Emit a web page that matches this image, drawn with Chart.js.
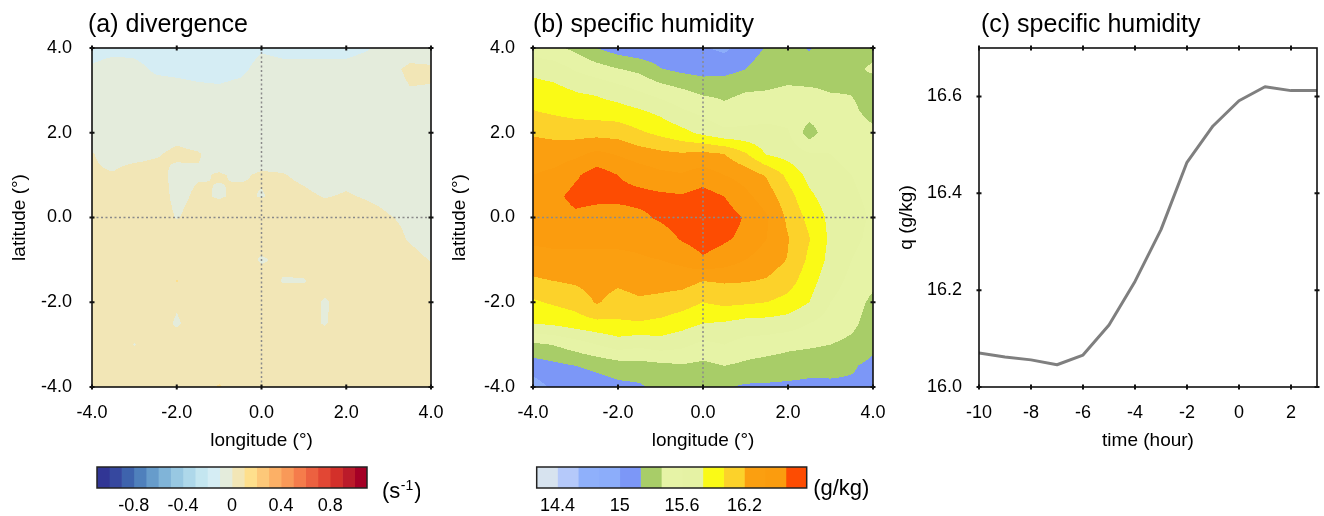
<!DOCTYPE html>
<html>
<head>
<meta charset="utf-8">
<script src="https://cdn.jsdelivr.net/npm/chart.js@4.4.0/dist/chart.umd.min.js"></script>
<style>
html,body{margin:0;padding:0;background:#fff;}
#wrap{position:relative;width:1324px;height:516px;overflow:hidden;background:#fff;}
#wrap canvas{position:absolute;}
</style>
</head>
<body>
<div id="wrap">
  <canvas id="mapDiv" width="445" height="460" style="left:0px;top:0px"></canvas>
  <canvas id="mapQ" width="445" height="460" style="left:445px;top:0px"></canvas>
  <canvas id="lineQ" width="434" height="460" style="left:890px;top:0px"></canvas>
  <canvas id="barDiv" width="340" height="61" style="left:80px;top:455px"></canvas>
  <canvas id="barQ" width="360" height="61" style="left:520px;top:455px"></canvas>
</div>
<script>
// ---- grid coordinates (degrees) ----
const lonPts = [-4, -3.5, -3, -2.5, -2, -1.5, -1, -0.5, 0, 0.5, 1, 1.5, 2, 2.5, 3, 3.5, 4];
const latPts = [4, 3.5, 3, 2.5, 2, 1.5, 1, 0.5, 0, -0.5, -1, -1.5, -2, -2.5, -3, -3.5, -4];

// ---- composite divergence, rows from 4N to 4S ----
const divergence = [
  [-0.13,-0.12,-0.12,-0.13,-0.14,-0.15,-0.15,-0.14,-0.11,-0.12,-0.12,-0.12,-0.12,-0.105,-0.08,-0.05,-0.04],
  [-0.09,-0.07,-0.08,-0.11,-0.12,-0.13,-0.135,-0.12,-0.07,-0.08,-0.08,-0.08,-0.08,-0.07,-0.03,0.02,0.01],
  [-0.06,-0.06,-0.06,-0.07,-0.07,-0.08,-0.085,-0.07,-0.06,-0.06,-0.06,-0.06,-0.05,-0.05,-0.04,-0.005,-0.005],
  [-0.05,-0.05,-0.05,-0.04,-0.04,-0.05,-0.05,-0.05,-0.05,-0.05,-0.05,-0.05,-0.05,-0.05,-0.05,-0.03,-0.03],
  [-0.03,-0.03,-0.03,-0.025,-0.015,-0.03,-0.04,-0.05,-0.05,-0.05,-0.05,-0.05,-0.05,-0.05,-0.05,-0.04,-0.04],
  [0.002,-0.015,-0.015,-0.005,0.01,0.004,-0.02,-0.03,-0.02,-0.025,-0.035,-0.04,-0.035,-0.04,-0.045,-0.05,-0.05],
  [0.005,0.003,0.02,0.02,-0.015,-0.005,0.003,-0.005,0.005,0.003,-0.01,-0.025,-0.015,-0.03,-0.035,-0.04,-0.045],
  [0.008,0.01,0.03,0.03,-0.015,0.01,-0.005,0.01,-0.003,0.015,0.01,-0.003,0.005,-0.005,-0.015,-0.03,-0.04],
  [0.015,0.03,0.04,0.03,-0.003,0.02,0.03,0.04,0.03,0.04,0.04,0.03,0.03,0.02,0.003,-0.01,-0.03],
  [0.04,0.04,0.04,0.04,0.04,0.04,0.04,0.04,0.04,0.04,0.04,0.04,0.04,0.04,0.02,-0.005,-0.03],
  [0.04,0.04,0.04,0.04,0.04,0.04,0.04,0.04,-0.01,0.02,0.03,0.04,0.04,0.04,0.04,0.02,-0.003],
  [0.04,0.04,0.04,0.04,0.105,0.04,0.04,0.04,0.04,-0.005,-0.005,0.04,0.04,0.04,0.04,0.04,0.02],
  [0.04,0.04,0.04,0.04,0.01,0.04,0.04,0.05,0.04,0.04,0.04,-0.01,0.04,0.04,0.04,0.04,0.04],
  [0.04,0.04,0.04,0.04,-0.01,0.04,0.04,0.04,0.04,0.04,0.02,-0.005,0.04,0.04,0.04,0.04,0.04],
  [0.04,0.04,-0.003,0.04,0.04,0.04,0.04,0.04,0.04,0.04,0.04,0.04,0.04,0.04,0.04,0.04,0.04],
  [0.04,0.04,0.04,0.04,0.04,0.04,0.04,0.04,0.04,0.04,0.04,0.04,0.04,0.04,0.04,0.04,0.04],
  [0.04,0.04,0.04,0.04,0.04,0.04,0.11,0.04,0.04,0.04,0.04,0.04,0.04,0.04,0.04,0.04,0.04]
];

// ---- composite specific humidity (g/kg), rows from 4N to 4S ----
const humidity = [
  [15.5,15.45,15.35,15.2,15.1,15.05,15.05,15.05,15.02,14.96,15.08,15.22,15.28,15.18,15.3,15.35,15.36],
  [15.74,15.7,15.58,15.49,15.41,15.35,15.21,15.15,15.12,15.13,15.2,15.32,15.34,15.3,15.34,15.37,15.42],
  [15.89,15.86,15.79,15.76,15.68,15.59,15.5,15.42,15.35,15.35,15.39,15.4,15.42,15.42,15.39,15.39,15.33],
  [16.01,15.97,15.93,15.91,15.89,15.83,15.75,15.63,15.55,15.45,15.5,15.52,15.52,15.5,15.48,15.43,15.35],
  [16.18,16.15,16.13,16.13,16.12,16.03,15.95,15.86,15.75,15.65,15.65,15.66,15.62,15.3,15.55,15.5,15.43],
  [16.3,16.3,16.35,16.45,16.38,16.3,16.25,16.22,16.25,16.2,16.02,15.78,15.72,15.62,15.6,15.55,15.5],
  [16.4,16.45,16.57,16.7,16.6,16.52,16.45,16.42,16.5,16.4,16.32,16.18,15.95,15.74,15.65,15.6,15.55],
  [16.45,16.55,16.66,16.65,16.66,16.66,16.64,16.62,16.68,16.6,16.45,16.3,16.08,15.84,15.7,15.62,15.57],
  [16.5,16.5,16.56,16.52,16.5,16.56,16.63,16.7,16.75,16.7,16.58,16.42,16.16,15.94,15.75,15.65,15.58],
  [16.45,16.45,16.45,16.45,16.45,16.45,16.5,16.62,16.7,16.63,16.55,16.4,16.21,16.01,15.76,15.65,15.55],
  [16.3,16.35,16.35,16.35,16.35,16.38,16.4,16.45,16.57,16.5,16.4,16.3,16.19,15.96,15.74,15.6,15.5],
  [16.17,16.2,16.23,16.28,16.24,16.28,16.28,16.28,16.2,16.22,16.21,16.18,16.09,15.88,15.68,15.55,15.45],
  [15.97,16.03,16.08,16.22,16.12,16.17,16.14,16.09,16.0,16.05,16.03,16.0,15.93,15.8,15.6,15.5,15.35],
  [15.8,15.84,15.9,15.95,15.97,15.98,15.95,15.88,15.8,15.78,15.73,15.72,15.7,15.6,15.52,15.45,15.3],
  [15.36,15.41,15.5,15.6,15.7,15.65,15.7,15.65,15.55,15.6,15.52,15.5,15.45,15.43,15.4,15.35,15.25],
  [15.1,15.15,15.2,15.25,15.3,15.32,15.35,15.38,15.35,15.4,15.36,15.32,15.3,15.27,15.26,15.22,15.15],
  [14.9,15.05,15.05,15.1,15.15,15.17,15.27,15.3,15.28,15.22,15.17,15.17,15.16,15.15,15.16,15.17,15.18]
];

// ---- contour levels and fill colours ----
const divLevels = [-1.0,-0.9,-0.8,-0.7,-0.6,-0.5,-0.4,-0.3,-0.2,-0.1,0,0.1,0.2,0.3,0.4,0.5,0.6,0.7,0.8,0.9,1.0];
const divColors = ['#313695','#36489f','#3e63ad','#4f80bc','#679ccb','#80b4d8','#98c8e2','#aed8ea','#c4e6f0','#d5edf4',
                   '#e4ecdc','#f2e6b6','#fedf8c','#fdc879','#fcb066','#f99958','#f57c4b','#ec6140','#e24734','#d3302a','#bb1b2a','#a50026'];
const divBarRange = [-1.1, 1.1];
const divBarTicks = [-0.8, -0.4, 0, 0.4, 0.8];

const qLevels = [14.4,14.6,14.8,15.0,15.2,15.4,15.6,15.8,16.0,16.2,16.4,16.6];
const qColors = ['#d7e3ef','#b5c9fa','#8fb0fb','#8cadfa','#7c97f7','#a8cd68','#e6f3a6','#e5f2a4','#fafa16','#fcd22a','#fb9f10','#fb9c0e','#fd4c02'];
const qBarRange = [14.2, 16.8];
const qBarTicks = [14.4, 15, 15.6, 16.2];

// ---- map axes ----
const mapRange = [-4, 4];
const mapTicks = [-4, -2, 0, 2, 4];
const crossLon = 0, crossLat = 0;

// ---- time series of specific humidity ----
const hours = [-10,-9,-8,-7,-6,-5,-4,-3,-2,-1,0,1,2,3];
const qSeries = [16.07,16.062,16.056,16.046,16.066,16.128,16.218,16.325,16.464,16.539,16.591,16.62,16.612,16.612];
const hourRange = [-10, 3];
const hourTicks = [-10,-8,-6,-4,-2,0,2];
const qRange = [16.0, 16.7];
const qTicks = [16.0, 16.2, 16.4, 16.6];

const FONT = "'Liberation Sans', Arial, Helvetica, sans-serif";
Chart.defaults.font.family = FONT;
Chart.defaults.color = '#000';

function hexRgb(h) { return [parseInt(h.slice(1,3),16), parseInt(h.slice(3,5),16), parseInt(h.slice(5,7),16)]; }

// bilinear value of a lon/lat grid
function sampleGrid(grid, lon, lat) {
  const nx = lonPts.length, ny = latPts.length;
  const fx = (lon - lonPts[0]) / (lonPts[1] - lonPts[0]);
  const fy = (lat - latPts[0]) / (latPts[1] - latPts[0]);
  const i = Math.max(0, Math.min(nx - 2, Math.floor(fx)));
  const j = Math.max(0, Math.min(ny - 2, Math.floor(fy)));
  const tx = Math.max(0, Math.min(1, fx - i)), ty = Math.max(0, Math.min(1, fy - j));
  const top = grid[j][i] * (1 - tx) + grid[j][i + 1] * tx;
  const bot = grid[j + 1][i] * (1 - tx) + grid[j + 1][i + 1] * tx;
  return top * (1 - ty) + bot * ty;
}

// filled contours: each pixel of the plot area is mapped back to lon/lat by the chart scales
function contourLayer(grid, levels, colors) {
  const rgb = colors.map(hexRgb);
  return {
    id: 'contourLayer',
    beforeDatasetsDraw(chart) {
      const {ctx, chartArea: a, scales: {x, y}} = chart;
      const x0 = Math.round(a.left), y0 = Math.round(a.top);
      const w = Math.round(a.right) - x0, h = Math.round(a.bottom) - y0;
      const img = ctx.createImageData(w, h);
      for (let r = 0; r < h; r++) {
        const lat = y.getValueForPixel(y0 + r + 0.5);
        for (let c = 0; c < w; c++) {
          const lon = x.getValueForPixel(x0 + c + 0.5);
          const v = sampleGrid(grid, lon, lat);
          let k = 0;
          while (k < levels.length && v >= levels[k]) k++;
          const p = (r * w + c) * 4;
          img.data[p] = rgb[k][0]; img.data[p + 1] = rgb[k][1]; img.data[p + 2] = rgb[k][2]; img.data[p + 3] = 255;
        }
      }
      ctx.putImageData(img, x0, y0);
    }
  };
}

// box, tick marks on all four sides, panel title
function panelFrame(title, dx) {
  return {
    id: 'panelFrame',
    afterDatasetsDraw(chart) {
      const {ctx, chartArea: a, scales: {x, y}} = chart;
      ctx.save();
      ctx.strokeStyle = '#111';
      ctx.lineWidth = 1.6;
      ctx.strokeRect(a.left, a.top, a.right - a.left, a.bottom - a.top);
      ctx.lineWidth = 2;
      ctx.beginPath();
      x.ticks.forEach(t => {
        const px = x.getPixelForValue(t.value);
        ctx.moveTo(px, a.top - 2.5); ctx.lineTo(px, a.top + 2.5);
        ctx.moveTo(px, a.bottom - 2.5); ctx.lineTo(px, a.bottom + 2.5);
      });
      y.ticks.forEach(t => {
        const py = y.getPixelForValue(t.value);
        ctx.moveTo(a.left - 2.5, py); ctx.lineTo(a.left + 2.5, py);
        ctx.moveTo(a.right - 2.5, py); ctx.lineTo(a.right + 2.5, py);
      });
      ctx.stroke();
      ctx.fillStyle = '#000';
      ctx.font = '25px ' + FONT;
      ctx.textAlign = 'left';
      ctx.textBaseline = 'alphabetic';
      ctx.fillText(title, a.left + dx, 32);
      ctx.restore();
    }
  };
}

function fixedTicks(values) { return scale => { scale.ticks = values.map(v => ({value: v})); }; }

const noGrid = {display: false, drawTicks: false};

function axisX(range, ticks, fmt, title) {
  return {
    type: 'linear', min: range[0], max: range[1],
    afterBuildTicks: fixedTicks(ticks),
    afterFit: s => { s.height = 73; s.paddingLeft = 0; s.paddingRight = 0; },
    grid: noGrid, border: {display: false},
    ticks: {padding: 15, font: {size: 18}, callback: fmt, maxRotation: 0, autoSkip: false},
    title: {display: true, text: title, font: {size: 19}, padding: {top: 0, bottom: 8}}
  };
}
function axisY(range, ticks, fmt, title, width, tickPad, titlePad) {
  return {
    type: 'linear', min: range[0], max: range[1],
    afterBuildTicks: fixedTicks(ticks),
    afterFit: s => { s.width = width; s.paddingTop = 0; s.paddingBottom = 0; },
    grid: noGrid, border: {display: false},
    ticks: {padding: tickPad, font: {size: 18}, callback: fmt, autoSkip: false},
    title: {display: true, text: title, font: {size: 19}, padding: {top: titlePad, bottom: 0}}
  };
}

const oneDecimal = v => Number(v).toFixed(1);

function crossLines() {
  const style = {showLine: true, borderColor: '#8a8a8a', borderWidth: 1.5, borderDash: [2, 2.5], pointRadius: 0};
  return [
    Object.assign({data: [{x: mapRange[0], y: crossLat}, {x: mapRange[1], y: crossLat}]}, style),
    Object.assign({data: [{x: crossLon, y: mapRange[0]}, {x: crossLon, y: mapRange[1]}]}, style)
  ];
}

function mapChart(id, grid, levels, colors, title, dx, yWidth, yTickPad, yTitlePad, rightPad) {
  return new Chart(document.getElementById(id), {
    type: 'scatter',
    data: {datasets: crossLines()},
    options: {
      responsive: false, animation: false, devicePixelRatio: 1, events: [],
      layout: {padding: {top: 48, right: rightPad, bottom: 0, left: 0}},
      plugins: {legend: {display: false}, tooltip: {enabled: false}},
      scales: {
        x: axisX(mapRange, mapTicks, oneDecimal, 'longitude (°)'),
        y: axisY(mapRange, mapTicks, oneDecimal, 'latitude (°)', yWidth, yTickPad, yTitlePad)
      }
    },
    plugins: [contourLayer(grid, levels, colors), panelFrame(title, dx)]
  });
}

mapChart('mapDiv', divergence, divLevels, divColors, '(a) divergence', -4, 92, 20, 8.6, 14);
mapChart('mapQ', humidity, qLevels, qColors, '(b) specific humidity', 0, 88, 18, 3.6, 17);

new Chart(document.getElementById('lineQ'), {
  type: 'line',
  data: {datasets: [{
    data: hours.map((h, i) => ({x: h, y: qSeries[i]})),
    borderColor: '#7f7f7f', borderWidth: 3, pointRadius: 0, tension: 0, fill: false,
    borderJoinStyle: 'round', borderCapStyle: 'round'
  }]},
  options: {
    responsive: false, animation: false, devicePixelRatio: 1, events: [],
    layout: {padding: {top: 48, right: 7, bottom: 0, left: 0}},
    plugins: {legend: {display: false}, tooltip: {enabled: false}},
    scales: {
      x: axisX(hourRange, hourTicks, v => String(v), 'time (hour)'),
      y: axisY(qRange, qTicks, oneDecimal, 'q (g/kg)', 89, 17, 5.6)
    }
  },
  plugins: [panelFrame('(c) specific humidity', 2)]
});

// colour bar outline and unit label
function barDecor(unit, sup, dx, baseline) {
  return {
    id: 'barDecor',
    afterDraw(chart) {
      const {ctx, chartArea: a} = chart;
      ctx.save();
      ctx.strokeStyle = '#222';
      ctx.lineWidth = 1.5;
      ctx.strokeRect(a.left, a.top, a.right - a.left, a.bottom - a.top);
      ctx.fillStyle = '#000';
      ctx.textAlign = 'left';
      ctx.textBaseline = 'alphabetic';
      let x = a.right + dx;
      ctx.font = '22px ' + FONT;
      ctx.fillText(unit[0], x, baseline);
      x += ctx.measureText(unit[0]).width;
      if (sup) {
        ctx.font = '14px ' + FONT;
        ctx.fillText(sup, x + 0.5, baseline - 8);
        x += ctx.measureText(sup).width + 1.5;
        ctx.font = '22px ' + FONT;
      }
      if (unit[1]) ctx.fillText(unit[1], x, baseline);
      ctx.restore();
    }
  };
}

function colorBar(id, levels, colors, range, ticks, fmt, padLeft, padRight, decor) {
  const edges = [range[0]].concat(levels, [range[1]]);
  return new Chart(document.getElementById(id), {
    type: 'bar',
    data: {
      labels: [''],
      datasets: colors.map((c, i) => ({
        data: [[edges[i], edges[i + 1]]], backgroundColor: c, borderWidth: 0,
        grouped: false, barPercentage: 1, categoryPercentage: 1
      }))
    },
    options: {
      indexAxis: 'y', responsive: false, animation: false, devicePixelRatio: 1, events: [],
      layout: {padding: {top: 12, left: padLeft, right: padRight, bottom: 0}},
      plugins: {legend: {display: false}, tooltip: {enabled: false}},
      scales: {
        x: {
          type: 'linear', min: range[0], max: range[1],
          afterBuildTicks: fixedTicks(ticks),
          afterFit: s => { s.height = 28; s.paddingLeft = 0; s.paddingRight = 0; },
          grid: noGrid, border: {display: false},
          ticks: {padding: 7, font: {size: 18}, callback: fmt, maxRotation: 0, autoSkip: false}
        },
        y: {display: false}
      }
    },
    plugins: [decor]
  });
}

colorBar('barDiv', divLevels, divColors, divBarRange, divBarTicks, v => String(v), 17, 53,
         barDecor(['(s', ')'], '-1', 15, 43));
colorBar('barQ', qLevels, qColors, qBarRange, qBarTicks, v => String(v), 16.7, 73.3,
         barDecor(['(g/kg)', ''], '', 6.5, 40));
</script>
</body>
</html>
